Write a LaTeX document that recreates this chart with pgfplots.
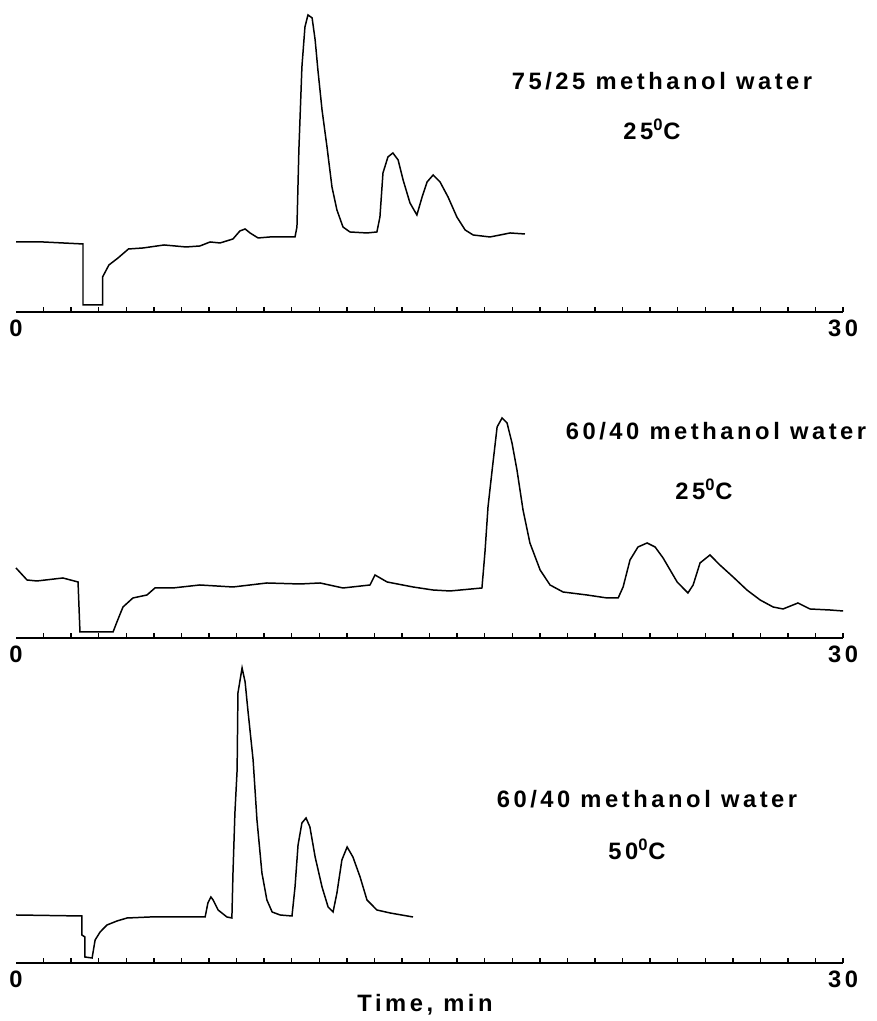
\documentclass[border=0pt]{standalone}
\usepackage{pgfplots}
\pgfplotsset{compat=1.18}
\usepackage{pgfplotstable}
\usepackage{fontspec}
\setmainfont{Liberation Sans}[LetterSpace=15]

% traces: time (min), height above baseline (px)
\pgfplotstableread{
t y
0 70
0.98 70
2.43 68
2.43 7
3.14 7
3.14 35
3.37 47
3.70 54
4.08 63
4.61 64
5.37 67
6.17 65
6.67 66
7.04 70
7.40 69
7.87 73
8.12 81
8.31 83
8.49 79
8.78 74
9.21 75
10.12 75
10.19 85
10.26 162
10.37 245
10.48 285
10.59 297
10.74 294
10.85 272
10.95 242
11.10 202
11.28 165
11.46 125
11.64 102
11.86 85
12.11 80
12.73 79
13.09 80
13.20 95
13.31 139
13.49 155
13.67 159
13.86 152
14.04 132
14.29 109
14.54 97
14.73 115
14.91 130
15.13 137
15.38 130
15.67 115
15.99 95
16.29 82
16.58 77
17.19 75
17.56 77
17.92 79
18.46 78
}\runA

\pgfplotstableread{
t y
0 70
0.40 58
0.76 57
1.70 60
2.25 56
2.32 6
3.52 6
3.66 16
3.88 31
4.24 40
4.75 43
5.04 50
5.69 50
6.67 53
7.87 51
9.10 55
10.30 54
11.03 55
11.86 50
12.84 53
13.02 63
13.46 56
14.40 51
15.12 48
15.74 47
16.90 50
17.01 86
17.12 131
17.27 168
17.45 211
17.63 220
17.81 215
17.99 195
18.17 168
18.39 128
18.64 95
19.01 68
19.37 53
19.84 46
20.71 43
21.44 40
21.84 40
22.02 51
22.27 78
22.56 91
22.89 95
23.18 91
23.47 80
23.98 56
24.37 45
24.56 53
24.81 75
25.17 83
25.53 73
26.01 61
26.51 48
26.99 38
27.46 31
27.82 29
28.36 35
28.80 29
29.52 28
30.00 27
}\runB

\pgfplotstableread{
t y
0 48
2.39 47
2.39 28
2.50 26
2.50 6
2.76 5
2.79 10
2.87 23
3.05 31
3.30 38
3.66 42
4.03 45
4.86 46
5.95 46
6.86 46
6.96 60
7.07 66
7.15 63
7.33 53
7.65 46
7.83 45
7.87 90
7.94 150
8.02 193
8.05 270
8.20 295
8.31 281
8.41 253
8.60 203
8.74 143
8.92 90
9.10 63
9.29 51
9.58 48
10.01 47
10.12 76
10.23 118
10.37 140
10.52 145
10.66 136
10.85 106
11.10 76
11.32 56
11.50 51
11.64 70
11.82 103
12.01 116
12.22 106
12.48 86
12.73 63
13.09 53
13.57 50
14.40 46
}\runC

\pgfplotsset{
  chrom/.style={
    x=0.5514cm, y=0.02cm,
    xmin=0, xmax=30, ymin=0, ymax=300,
    clip=false, anchor=south west,
    axis x line*=bottom, axis y line=none, ytick=\empty,
    xtick={1,...,30}, xticklabels={},
    tick align=inside, major tick length=0.09cm,
    tick style={black, line width=0.8pt},
    axis line style={black, line width=0.8pt},
  },
  trace/.style={black, line width=0.85pt, no markers},
}

\newcommand{\lbl}{\fontsize{13.5}{16}\selectfont\bfseries}

\begin{document}
\begin{tikzpicture}
\path (0,0) rectangle (17.52,20.42);

\begin{axis}[chrom, at={(0.32cm,14.18cm)}]
  \addplot[trace] table[x=t, y=y] {\runA};
  \node[anchor=north, inner sep=0, font=\lbl] at (axis cs:0,0) [yshift=-0.15cm] {0};
  \node[anchor=north, inner sep=0, font=\lbl] at (axis cs:30,0) [yshift=-0.15cm] {30};
\end{axis}

\begin{axis}[chrom, at={(0.32cm,7.66cm)}]
  \addplot[trace] table[x=t, y=y] {\runB};
  \node[anchor=north, inner sep=0, font=\lbl] at (axis cs:0,0) [yshift=-0.15cm] {0};
  \node[anchor=north, inner sep=0, font=\lbl] at (axis cs:30,0) [yshift=-0.15cm] {30};
\end{axis}

\begin{axis}[chrom, at={(0.32cm,1.16cm)}]
  \addplot[trace] table[x=t, y=y] {\runC};
  \node[anchor=north, inner sep=0, font=\lbl] at (axis cs:0,0) [yshift=-0.15cm] {0};
  \node[anchor=north, inner sep=0, font=\lbl] at (axis cs:30,0) [yshift=-0.15cm] {30};
\end{axis}

\node[anchor=base, inner sep=0, font=\lbl] at (13.24,18.62) {75/25 methanol water};
\node[anchor=base, inner sep=0, font=\lbl] at (13.04,17.62) {25\textsuperscript{0}C};
\node[anchor=base, inner sep=0, font=\lbl] at (14.32,11.62) {60/40 methanol water};
\node[anchor=base, inner sep=0, font=\lbl] at (14.08,10.42) {25\textsuperscript{0}C};
\node[anchor=base, inner sep=0, font=\lbl] at (12.94,4.26) {60/40 methanol water};
\node[anchor=base, inner sep=0, font=\lbl] at (12.74,3.22) {50\textsuperscript{0}C};
\node[anchor=base, inner sep=0, font=\lbl] at (8.50,0.20) {Time, min};
\end{tikzpicture}
\end{document}
